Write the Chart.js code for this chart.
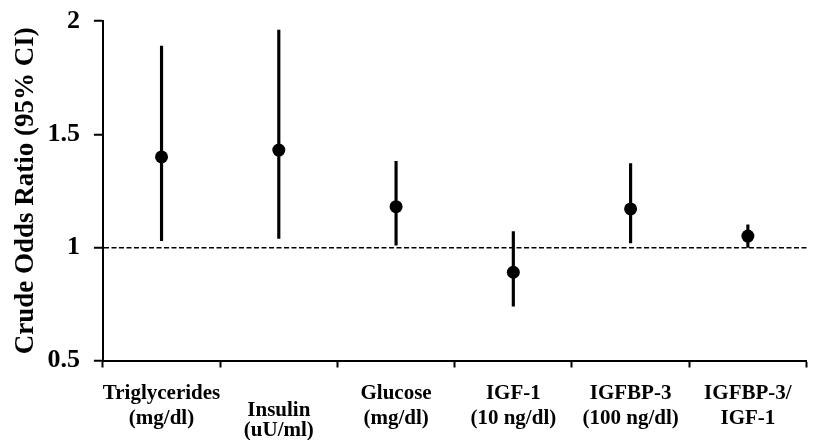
<!DOCTYPE html>
<html>
<head>
<meta charset="utf-8">
<script src="https://cdn.jsdelivr.net/npm/chart.js@4/dist/chart.umd.min.js"></script>
<style>
html,body{margin:0;padding:0;background:#fff;}
#wrap{width:813px;height:440px;}
</style>
</head>
<body>
<div id="wrap"><canvas id="c" width="813" height="440"></canvas></div>
<script>
// ---- data ----
const categories = [
  ["Triglycerides", "(mg/dl)"],
  ["", "Insulin", "(uU/ml)"],
  ["Glucose", "(mg/dl)"],
  ["IGF-1", "(10 ng/dl)"],
  ["IGFBP-3", "(100 ng/dl)"],
  ["IGFBP-3/", "IGF-1"]
];
const oddsRatio = [1.40, 1.43, 1.18, 0.89, 1.17, 1.05];
const ciLower   = [1.03, 1.04, 1.01, 0.74, 1.02, 1.00];
const ciUpper   = [1.89, 1.96, 1.38, 1.07, 1.37, 1.10];
const yTicks = [0.5, 1, 1.5, 2];
const referenceValue = 1;
const yTitle = "Crude Odds Ratio (95% CI)";

// ---- chart ----
const serif = "'Liberation Serif', 'Times New Roman', serif";
const ciBars = ciLower.map((lo, i) => [lo, ciUpper[i]]);

new Chart(document.getElementById('c'), {
  type: 'bar',
  data: {
    labels: categories,
    datasets: [
      {
        type: 'line',
        label: 'Odds ratio',
        data: oddsRatio,
        showLine: false,
        pointRadius: 6.5,
        pointBackgroundColor: '#000',
        pointBorderColor: '#000',
        pointBorderWidth: 0,
        order: 0
      },
      {
        type: 'bar',
        label: '95% CI',
        data: ciBars,
        backgroundColor: '#000',
        borderWidth: 0,
        barThickness: 2.5,
        order: 1
      }
    ]
  },
  options: {
    responsive: false,
    devicePixelRatio: 1,
    animation: false,
    events: [],
    layout: { padding: { left: 6, right: 6, top: 0, bottom: -14.5 } },
    plugins: { legend: { display: false }, tooltip: { enabled: false } },
    scales: {
      x: {
        type: 'category',
        offset: true,
        grid: {
          offset: true,
          drawOnChartArea: false,
          drawTicks: true,
          tickLength: 7,
          tickWidth: 2,
          tickColor: '#000'
        },
        border: { display: true, color: '#000', width: 2 },
        ticks: {
          color: '#000',
          padding: 13.5,
          maxRotation: 0,
          minRotation: 0,
          autoSkip: false,
          font: (ctx) => {
            const lbl = ctx.tick && ctx.tick.label;
            const three = Array.isArray(lbl) && lbl.length === 3;
            return { family: serif, size: 21, weight: 'bold', lineHeight: three ? 20 / 21 : 25 / 21 };
          }
        }
      },
      y: {
        type: 'linear',
        min: yTicks[0],
        max: yTicks[yTicks.length - 1],
        afterBuildTicks: (scale) => { scale.ticks = yTicks.map(v => ({ value: v })); },
        grid: {
          drawOnChartArea: true,
          color: (ctx) => (ctx.tick && ctx.tick.value === referenceValue) ? '#000' : 'rgba(0,0,0,0)',
          lineWidth: 1.5,
          tickLength: 9,
          tickWidth: 2,
          tickColor: '#000'
        },
        border: { display: true, color: '#000', width: 2, dash: [5, 2.5] },
        ticks: {
          color: '#000',
          padding: 14,
          font: { family: serif, size: 26, weight: 'bold', lineHeight: 0.55 },
          callback: (v) => String(v)
        },
        title: {
          display: true,
          text: yTitle,
          color: '#000',
          font: { family: serif, size: 27, weight: 'bold' },
          padding: { top: 4, bottom: -9 }
        }
      }
    }
  }
});
</script>
</body>
</html>
